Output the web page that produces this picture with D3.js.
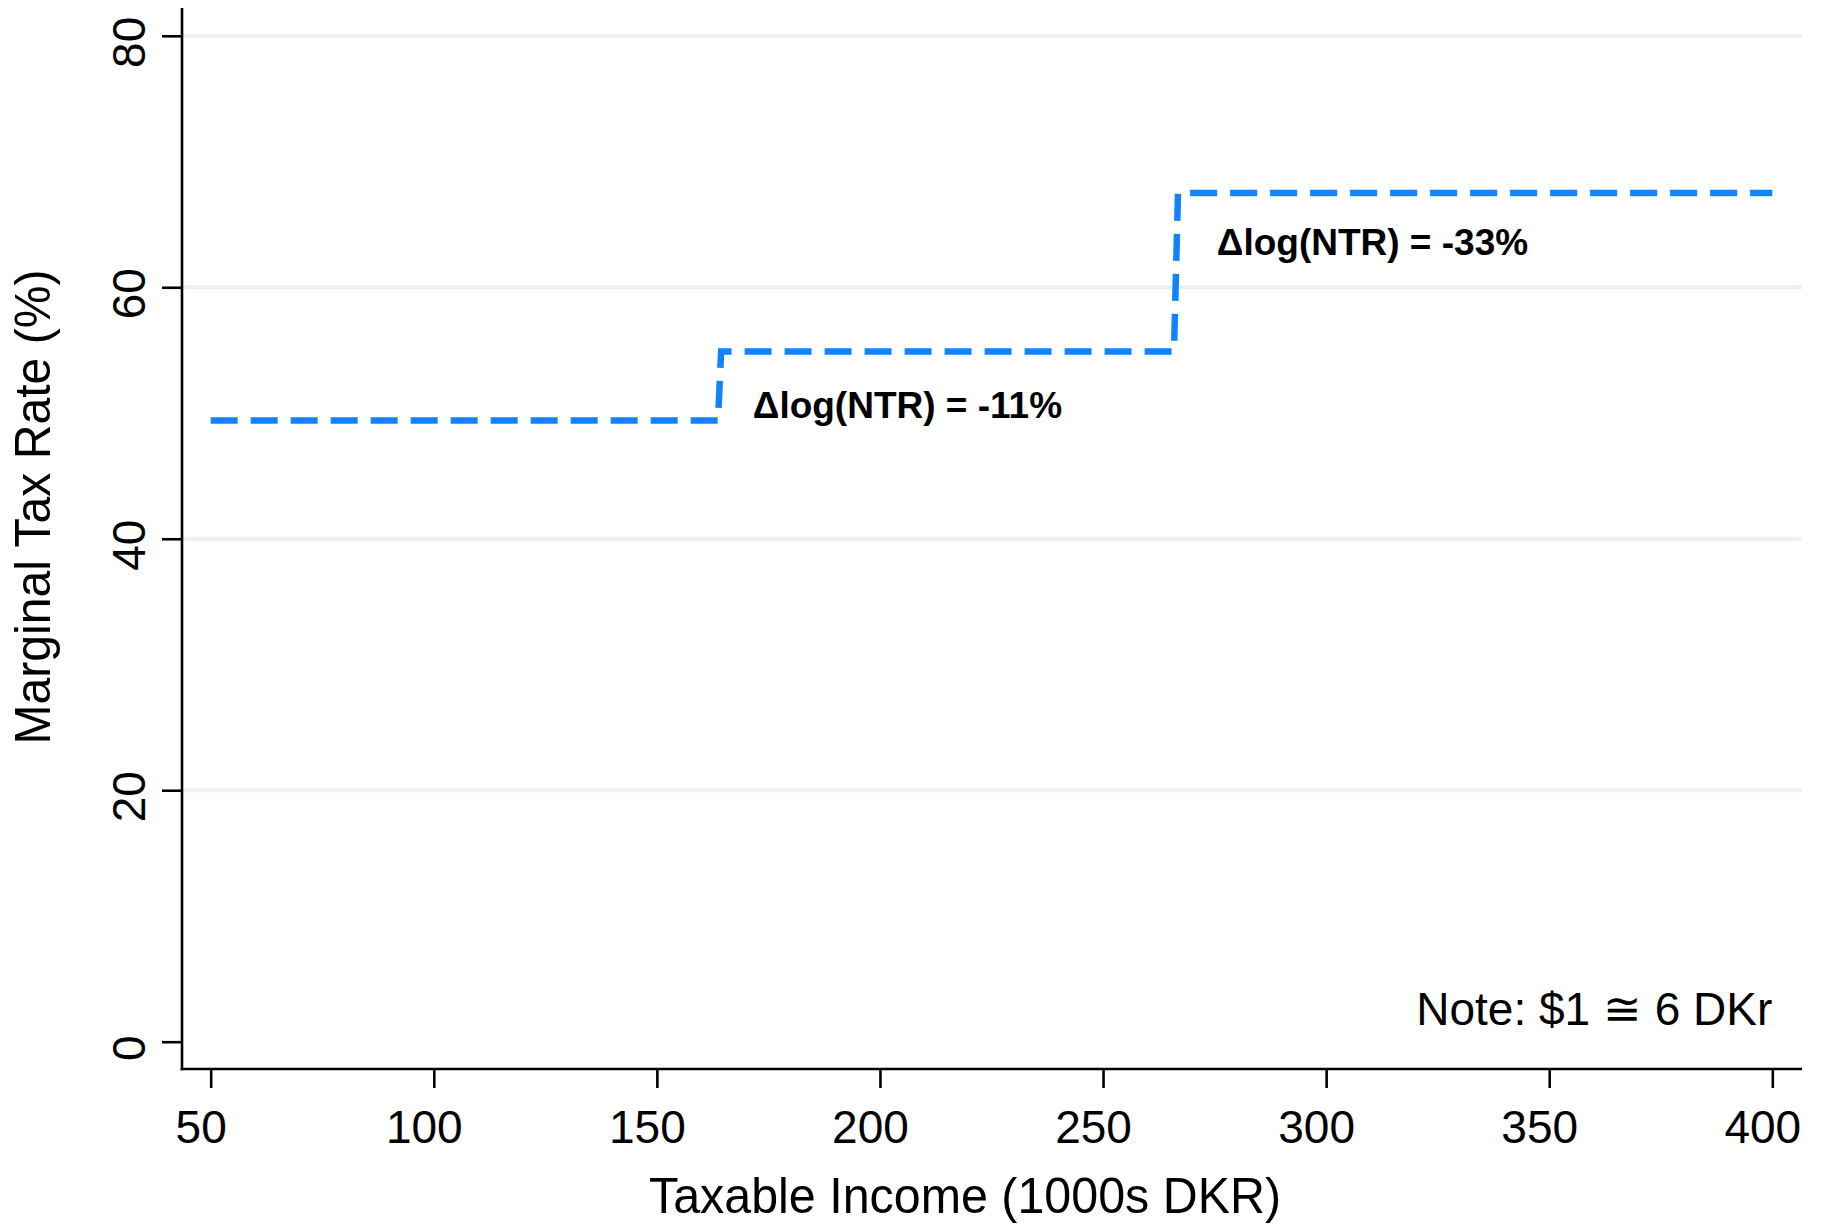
<!DOCTYPE html>
<html>
<head>
<meta charset="utf-8">
<script src="https://cdn.jsdelivr.net/npm/d3@7"></script>
<style>
  html, body { margin: 0; padding: 0; background: #fff; }
  svg { display: block; font-family: "Liberation Sans", Arial, Helvetica, sans-serif; }
</style>
</head>
<body>
<svg id="chart" width="1825" height="1224"></svg>
<script>
// ---- data ----
const incomeK = [50, 163.7, 164.4, 265.9, 266.8, 400];
const marginalRate = [49.4, 49.4, 54.9, 54.9, 67.5, 67.5];
const xTicks = [50, 100, 150, 200, 250, 300, 350, 400];
const yTicks = [0, 20, 40, 60, 80];
const gridValues = [20, 40, 60, 80];
const annotations = [
  { text: "\u0394log(NTR) = -11%", x: 171.5, y: 49.6 },
  { text: "\u0394log(NTR) = -33%", x: 275.5, y: 62.6 }
];
const noteText = "Note: $1 \u2245 6 DKr";
const noteAt = { x: 400, y: 1.33 };
const xTitle = "Taxable Income (1000s DKR)";
const yTitle = "Marginal Tax Rate (%)";

// ---- layout ----
const plot = { left: 182, right: 1802, top: 8, bottom: 1069 };
const svg = d3.select("#chart");
const x = d3.scaleLinear().domain([50, 400]).range([210.7, 1772.3]);
const y = d3.scaleLinear().domain([0, 80]).range([1041.7, 35.8]);
const lineColor = "#1184fc";

// gridlines
svg.append("g").selectAll("line").data(gridValues).join("line")
  .attr("x1", plot.left).attr("x2", plot.right)
  .attr("y1", d => y(d)).attr("y2", d => y(d))
  .attr("stroke", "#eaf1f2").attr("stroke-width", 4);

// y axis
const gy = svg.append("g").attr("transform", `translate(${plot.left},0)`)
  .call(d3.axisLeft(y).tickValues(yTicks).tickSize(20).tickSizeOuter(0));
gy.select(".domain").remove();
gy.selectAll(".tick line").attr("stroke", "#000").attr("stroke-width", 2.6);
gy.selectAll(".tick text")
  .attr("transform", "rotate(-90)")
  .attr("x", -6).attr("y", -37).attr("dy", 0)
  .attr("text-anchor", "middle")
  .attr("font-size", 46).attr("fill", "#000")
  .style("font-family", "'Liberation Sans', Arial, sans-serif");

// x axis
const gx = svg.append("g").attr("transform", `translate(0,${plot.bottom})`)
  .call(d3.axisBottom(x).tickValues(xTicks).tickSize(19).tickSizeOuter(0));
gx.select(".domain").remove();
gx.selectAll(".tick line").attr("stroke", "#000").attr("stroke-width", 2.6);
gx.selectAll(".tick text")
  .attr("x", -10)
  .attr("y", 74).attr("dy", 0)
  .attr("font-size", 46).attr("fill", "#000")
  .style("font-family", "'Liberation Sans', Arial, sans-serif");

// axis lines
svg.append("line").attr("x1", plot.left).attr("x2", plot.left)
  .attr("y1", plot.top).attr("y2", plot.bottom + 1.3)
  .attr("stroke", "#000").attr("stroke-width", 2.6);
svg.append("line").attr("x1", plot.left - 1.3).attr("x2", plot.right)
  .attr("y1", plot.bottom).attr("y2", plot.bottom)
  .attr("stroke", "#000").attr("stroke-width", 2.6);

// step line
const pts = incomeK.map((d, i) => [d, marginalRate[i]]);
svg.append("path")
  .datum(pts)
  .attr("d", d3.line().x(d => x(d[0])).y(d => y(d[1])))
  .attr("fill", "none")
  .attr("stroke", lineColor)
  .attr("stroke-width", 6.5)
  .attr("stroke-dasharray", "27 13")
  .attr("stroke-linejoin", "miter");

// annotations
svg.append("g").selectAll("text").data(annotations).join("text")
  .attr("x", d => x(d.x)).attr("y", d => y(d.y))
  .attr("font-size", 37).attr("font-weight", "bold").attr("fill", "#000")
  .text(d => d.text);

// note
svg.append("text")
  .attr("x", x(noteAt.x)).attr("y", y(noteAt.y))
  .attr("text-anchor", "end")
  .attr("font-size", 46).attr("fill", "#000")
  .text(noteText);

// axis titles
svg.append("text")
  .attr("x", 965).attr("y", 1213)
  .attr("text-anchor", "middle")
  .attr("font-size", 50).attr("fill", "#000")
  .attr("textLength", 632).attr("lengthAdjust", "spacingAndGlyphs")
  .text(xTitle);

svg.append("text")
  .attr("transform", "translate(50,507) rotate(-90)")
  .attr("text-anchor", "middle")
  .attr("font-size", 50).attr("fill", "#000")
  .attr("textLength", 475).attr("lengthAdjust", "spacingAndGlyphs")
  .text(yTitle);
</script>
</body>
</html>
